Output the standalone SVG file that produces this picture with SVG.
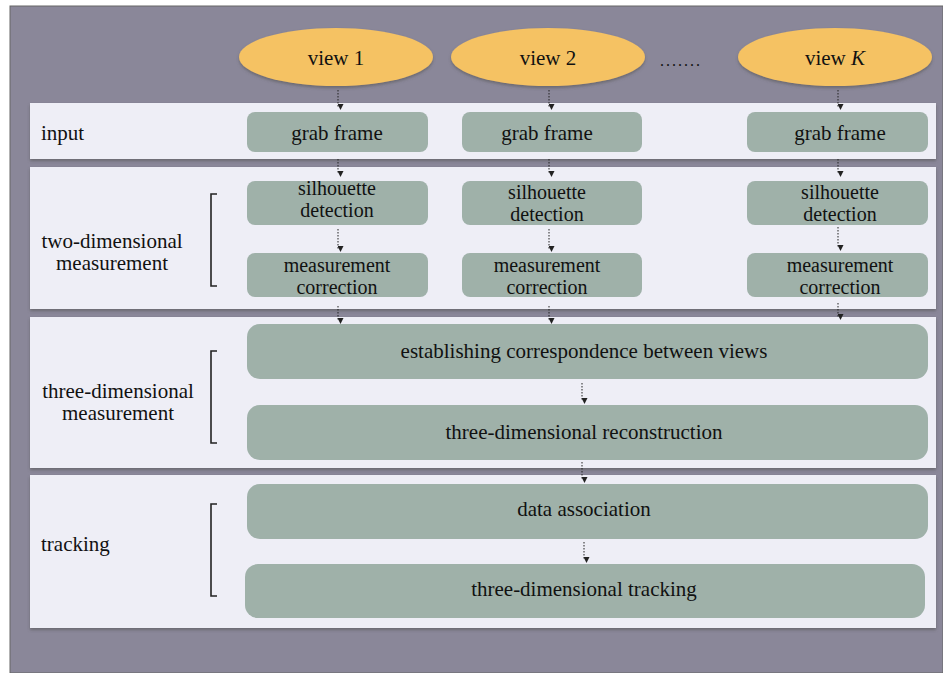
<svg xmlns="http://www.w3.org/2000/svg" width="943" height="673" viewBox="0 0 943 673">
<defs>
<style>
text{font-family:'Liberation Serif','DejaVu Serif',serif;font-size:21px;fill:#111;}
.c{text-anchor:middle;}
.t2{font-size:20px;}
.panel{fill:#eeeef6;}
.box{fill:#9fb1a9;}
.view{fill:#f5c264;}
.conn{stroke:#222;stroke-width:1;stroke-dasharray:1.5 1.5;fill:none;marker-end:url(#ah);}
.br{stroke:#222;stroke-width:1.6;fill:none;}
</style>
<marker id="ah" viewBox="0 0 6 6" refX="3" refY="5.5" markerWidth="6" markerHeight="6" markerUnits="userSpaceOnUse" orient="auto-start-reverse">
<path d="M0,0 L6,0 L3,6 Z" fill="#222" transform="rotate(-90 3 3)"/>
</marker>
<filter id="sh" x="-5%" y="-10%" width="110%" height="130%">
<feDropShadow dx="0" dy="2" stdDeviation="1.5" flood-color="#555" flood-opacity="0.6"/>
</filter>
</defs>
<rect x="0" y="0" width="943" height="673" fill="#ffffff"/>
<rect x="10" y="6" width="933" height="667" fill="#8a8799" stroke="#666" stroke-width="1"/>

<g id="panels" filter="url(#sh)">
<rect id="panel-input" class="panel" x="30" y="103" width="906" height="56"/>
<rect id="panel-2d" class="panel" x="30" y="167" width="906" height="142"/>
<rect id="panel-3d" class="panel" x="30" y="317" width="906" height="151"/>
<rect id="panel-tracking" class="panel" x="30" y="475" width="906" height="153"/>
</g>

<g id="labels">
<text x="41" y="140">input</text>
<text class="c" x="112" y="248">two-dimensional</text>
<text class="c" x="112" y="270">measurement</text>
<text class="c" x="118" y="398">three-dimensional</text>
<text class="c" x="118" y="420">measurement</text>
<text x="41" y="551">tracking</text>
<text x="660" y="66" style="font-size:16px;letter-spacing:2px">.......</text>
</g>

<g id="brackets">
<path class="br" d="M217,194 H211 V286 H217"/>
<path class="br" d="M217,351 H211 V443 H217"/>
<path class="br" d="M217,504 H211 V596 H217"/>
</g>

<g id="view1"><ellipse class="view" cx="336" cy="57" rx="97" ry="29" filter="url(#sh)"/><text class="c" x="336" y="65">view 1</text></g>
<g id="view2"><ellipse class="view" cx="548" cy="57" rx="97" ry="29" filter="url(#sh)"/><text class="c" x="548" y="65">view 2</text></g>
<g id="viewK"><ellipse class="view" cx="835" cy="57" rx="97" ry="29" filter="url(#sh)"/><text class="c" x="835" y="65">view <tspan font-style="italic">K</tspan></text></g>

<g id="grab1"><rect class="box" x="247" y="112" width="181" height="40" rx="8"/><text class="c" x="337" y="140">grab frame</text></g>
<g id="grab2"><rect class="box" x="462" y="112" width="180" height="40" rx="8"/><text class="c" x="547" y="140">grab frame</text></g>
<g id="grabK"><rect class="box" x="747" y="112" width="181" height="40" rx="8"/><text class="c" x="840" y="140">grab frame</text></g>

<g id="sil1"><rect class="box" x="247" y="181" width="181" height="44" rx="8"/><text class="c t2" x="337" y="195">silhouette</text><text class="c t2" x="337" y="217">detection</text></g>
<g id="sil2"><rect class="box" x="462" y="181" width="180" height="44" rx="8"/><text class="c t2" x="547" y="199">silhouette</text><text class="c t2" x="547" y="221">detection</text></g>
<g id="silK"><rect class="box" x="747" y="181" width="181" height="44" rx="8"/><text class="c t2" x="840" y="199">silhouette</text><text class="c t2" x="840" y="221">detection</text></g>

<g id="meas1"><rect class="box" x="247" y="253" width="181" height="44" rx="8"/><text class="c t2" x="337" y="272">measurement</text><text class="c t2" x="337" y="294">correction</text></g>
<g id="meas2"><rect class="box" x="462" y="253" width="180" height="44" rx="8"/><text class="c t2" x="547" y="272">measurement</text><text class="c t2" x="547" y="294">correction</text></g>
<g id="measK"><rect class="box" x="747" y="253" width="181" height="44" rx="8"/><text class="c t2" x="840" y="272">measurement</text><text class="c t2" x="840" y="294">correction</text></g>

<g id="establish"><rect class="box" x="247" y="324" width="681" height="55" rx="13"/><text class="c" x="584" y="358">establishing correspondence between views</text></g>
<g id="recon"><rect class="box" x="247" y="405" width="681" height="55" rx="13"/><text class="c" x="584" y="439">three-dimensional reconstruction</text></g>
<g id="assoc"><rect class="box" x="247" y="484" width="681" height="55" rx="13"/><text class="c" x="584" y="516">data association</text></g>
<g id="track"><rect class="box" x="245" y="564" width="680" height="54" rx="13"/><text class="c" x="584" y="596">three-dimensional tracking</text></g>

<g id="connectors">
<line class="conn" x1="338" y1="90" x2="338" y2="107"/>
<line class="conn" x1="549" y1="90" x2="549" y2="107"/>
<line class="conn" x1="838" y1="90" x2="838" y2="107"/>
<line class="conn" x1="338" y1="159" x2="338" y2="174"/>
<line class="conn" x1="549" y1="159" x2="549" y2="174"/>
<line class="conn" x1="838" y1="159" x2="838" y2="174"/>
<line class="conn" x1="338" y1="229" x2="338" y2="249"/>
<line class="conn" x1="549" y1="229" x2="549" y2="249"/>
<line class="conn" x1="838" y1="227" x2="838" y2="248"/>
<line class="conn" x1="338" y1="306" x2="338" y2="321"/>
<line class="conn" x1="549" y1="306" x2="549" y2="321"/>
<line class="conn" x1="838" y1="303" x2="838" y2="317"/>
<line class="conn" x1="582" y1="383" x2="582" y2="401"/>
<line class="conn" x1="582" y1="462" x2="582" y2="480"/>
<line class="conn" x1="584" y1="542" x2="584" y2="560"/>
</g>
</svg>
